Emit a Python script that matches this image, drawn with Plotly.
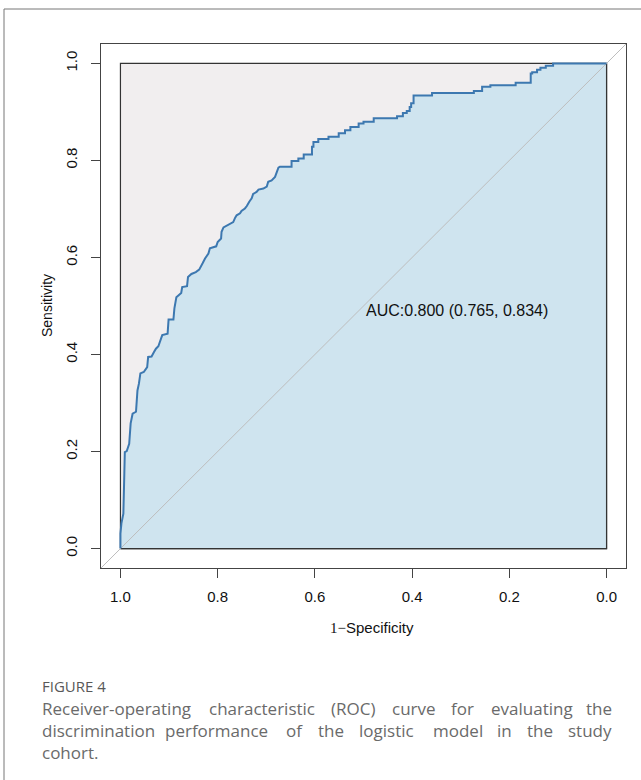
import plotly.graph_objects as go

# ---------------- data ----------------
specificity = [1.000, 1.000, 0.998, 0.994, 0.992, 0.991, 0.987, 0.982, 0.979, 0.975,
               0.968, 0.966, 0.965, 0.962, 0.959, 0.952, 0.945, 0.943, 0.936, 0.931,
               0.927, 0.922, 0.917, 0.914, 0.903, 0.901, 0.891, 0.889, 0.885, 0.875,
               0.873, 0.863, 0.861, 0.854, 0.845, 0.838, 0.831, 0.826, 0.819, 0.816,
               0.803, 0.800, 0.793, 0.792, 0.788, 0.780, 0.775, 0.768, 0.764, 0.761,
               0.754, 0.751, 0.744, 0.740, 0.735, 0.730, 0.727, 0.720, 0.716, 0.706,
               0.699, 0.696, 0.689, 0.682, 0.678, 0.675, 0.672,
               0.648, 0.648, 0.634, 0.634, 0.623, 0.623, 0.606, 0.606, 0.603, 0.603,
               0.593, 0.593, 0.572, 0.572, 0.551, 0.551, 0.538, 0.538, 0.527, 0.527,
               0.510, 0.510, 0.500, 0.500, 0.479, 0.479, 0.431, 0.431, 0.419, 0.419,
               0.411, 0.411, 0.405, 0.405, 0.402, 0.402, 0.397, 0.397, 0.359, 0.359,
               0.273, 0.273, 0.256, 0.256, 0.239, 0.239, 0.187, 0.187, 0.156, 0.156,
               0.153, 0.153, 0.143, 0.143, 0.136, 0.136, 0.125, 0.125, 0.110, 0.110,
               0.000]
sensitivity = [0.000, 0.031, 0.052, 0.072, 0.155, 0.199, 0.201, 0.216, 0.258, 0.278,
               0.282, 0.313, 0.326, 0.340, 0.361, 0.364, 0.374, 0.395, 0.396, 0.405,
               0.412, 0.417, 0.433, 0.440, 0.443, 0.472, 0.472, 0.495, 0.518, 0.527,
               0.539, 0.541, 0.560, 0.566, 0.570, 0.575, 0.588, 0.598, 0.608, 0.619,
               0.623, 0.632, 0.639, 0.653, 0.662, 0.667, 0.670, 0.673, 0.682, 0.687,
               0.691, 0.696, 0.701, 0.706, 0.715, 0.722, 0.731, 0.735, 0.740, 0.742,
               0.746, 0.756, 0.759, 0.766, 0.777, 0.785, 0.787,
               0.787, 0.799, 0.799, 0.804, 0.804, 0.812, 0.812, 0.828, 0.828, 0.838,
               0.838, 0.844, 0.844, 0.849, 0.849, 0.856, 0.856, 0.862, 0.862, 0.869,
               0.869, 0.876, 0.876, 0.880, 0.880, 0.887, 0.887, 0.891, 0.891, 0.898,
               0.898, 0.902, 0.902, 0.910, 0.910, 0.918, 0.918, 0.934, 0.934, 0.939,
               0.939, 0.943, 0.943, 0.952, 0.952, 0.955, 0.955, 0.960, 0.960, 0.979,
               0.979, 0.982, 0.982, 0.987, 0.987, 0.991, 0.991, 0.995, 0.995, 1.000,
               1.000]

x_ticks = [1.0, 0.8, 0.6, 0.4, 0.2, 0.0]
x_tick_labels = ["1.0", "0.8", "0.6", "0.4", "0.2", "0.0"]
y_ticks = [0.0, 0.2, 0.4, 0.6, 0.8, 1.0]
y_tick_labels = ["0.0", "0.2", "0.4", "0.6", "0.8", "1.0"]

auc_label = "AUC:0.800 (0.765, 0.834)"
caption_title = "FIGURE 4"
caption_line1 = ["Receiver-operating", "characteristic", "(ROC)", "curve", "for", "evaluating", "the"]
caption_line2 = ["discrimination", "performance", "of", "the", "logistic", "model", "in", "the", "study"]
caption_line3 = "cohort."

# ---------------- layout geometry (page pixels) ----------------
W, H = 641, 780
PL, PR, PT, PB = 101, 626, 44, 568   # plot-region box


def pxx(px):
    return (px - PL) / (PR - PL)


def pxy(py):
    return (PB - py) / (PB - PT)


fig = go.Figure()

# max AUC polygon (background square)
fig.add_trace(go.Scatter(x=[1, 0, 0, 1, 1], y=[0, 0, 1, 1, 0], mode="lines",
                         fill="toself", fillcolor="#f1eeef",
                         line=dict(color="#333333", width=1.2),
                         hoverinfo="skip", showlegend=False))
# AUC polygon
fig.add_trace(go.Scatter(x=specificity + [0.0, 1.0], y=sensitivity + [0.0, 0.0],
                         mode="lines", fill="toself", fillcolor="#cfe4ef",
                         line=dict(width=0), hoverinfo="skip", showlegend=False))
# right / bottom edge of the square drawn again over the fill
fig.add_trace(go.Scatter(x=[0, 0, 1], y=[1, 0, 0], mode="lines",
                         line=dict(color="#333333", width=1.2),
                         hoverinfo="skip", showlegend=False))
# identity line
fig.add_trace(go.Scatter(x=[1.04, -0.04], y=[-0.04, 1.04], mode="lines",
                         line=dict(color="#bdbdbd", width=1),
                         hoverinfo="skip", showlegend=False))
# ROC curve
fig.add_trace(go.Scatter(x=specificity, y=sensitivity, mode="lines",
                         line=dict(color="#3d78b0", width=2),
                         hoverinfo="skip", showlegend=False))

fig.add_annotation(x=0.5, y=0.49, xref="x", yref="y", text=auc_label,
                   showarrow=False, xanchor="left", yanchor="middle",
                   font=dict(family="Liberation Sans, Arial", size=16, color="#111111"))

axis_common = dict(showline=True, mirror=True, linecolor="#444444", linewidth=1.2,
                   ticks="outside", ticklen=9, tickcolor="#444444", tickwidth=1.2,
                   showgrid=False, zeroline=False,
                   tickfont=dict(family="Liberation Sans, Arial", size=15, color="#111111"))

fig.update_xaxes(range=[1.04, -0.04], tickvals=x_ticks, ticktext=x_tick_labels,
                 ticklabelstandoff=6, **axis_common)
fig.update_yaxes(range=[-0.04, 1.04], tickvals=y_ticks, ticktext=y_tick_labels,
                 tickangle=-90, ticklabelstandoff=8, **axis_common)

# axis titles
fig.add_annotation(x=pxx(47), y=pxy(306), xref="paper", yref="paper", text="Sensitivity",
                   textangle=-90, showarrow=False, xanchor="center", yanchor="middle",
                   font=dict(family="Liberation Sans, Arial", size=14, color="#111111"))
fig.add_annotation(x=pxx(372), y=pxy(627), xref="paper", yref="paper",
                   text='<span style="font-family:Liberation Serif">1−</span>Specificity',
                   showarrow=False, xanchor="center", yanchor="middle",
                   font=dict(family="Liberation Sans, Arial", size=15, color="#111111"))

# outer frame of the figure panel
fig.add_shape(type="rect", xref="paper", yref="paper",
              x0=pxx(4), x1=pxx(660), y0=pxy(800), y1=pxy(9),
              line=dict(color="#777777", width=1), layer="below")

CAP_SIZE = 17
cap_font = dict(family="Open Sans", size=CAP_SIZE, color="#6a6a6a")
fig.add_annotation(x=pxx(40), y=pxy(686), xref="paper", yref="paper", text=caption_title,
                   showarrow=False, xanchor="left", yanchor="middle",
                   font=dict(family="Open Sans", size=15, color="#585858"))

# approximate rendered word widths (px at 16 px Open Sans) used to justify lines
word_w16 = {"Receiver-operating": 142, "characteristic": 100, "(ROC)": 42, "curve": 41,
            "for": 22, "evaluating": 75, "the": 25, "discrimination": 102,
            "performance": 100, "of": 16, "logistic": 55, "model": 47, "in": 14,
            "study": 42}
TEXT_L, TEXT_R = 41, 612


def place_justified(words, ypix):
    widths = [word_w16[w] * CAP_SIZE / 16.0 for w in words]
    gap = (TEXT_R - TEXT_L - sum(widths)) / (len(words) - 1)
    x = TEXT_L
    for w, wd in zip(words, widths):
        fig.add_annotation(x=pxx(x), y=pxy(ypix), xref="paper", yref="paper", text=w,
                           showarrow=False, xanchor="left", yanchor="middle",
                           borderpad=0, font=cap_font)
        x += wd + gap


place_justified(caption_line1, 708)
place_justified(caption_line2, 730)
fig.add_annotation(x=pxx(TEXT_L), y=pxy(752), xref="paper", yref="paper", text=caption_line3,
                   showarrow=False, xanchor="left", yanchor="middle", borderpad=0,
                   font=cap_font)

fig.update_layout(width=W, height=H, autosize=False,
                  margin=dict(l=PL, r=W - PR, t=PT, b=H - PB, pad=0),
                  plot_bgcolor="white", paper_bgcolor="white")

fig.write_html("out.html", config={"displayModeBar": False},
               post_script="document.body.style.margin='0';document.body.style.overflow='hidden';")
